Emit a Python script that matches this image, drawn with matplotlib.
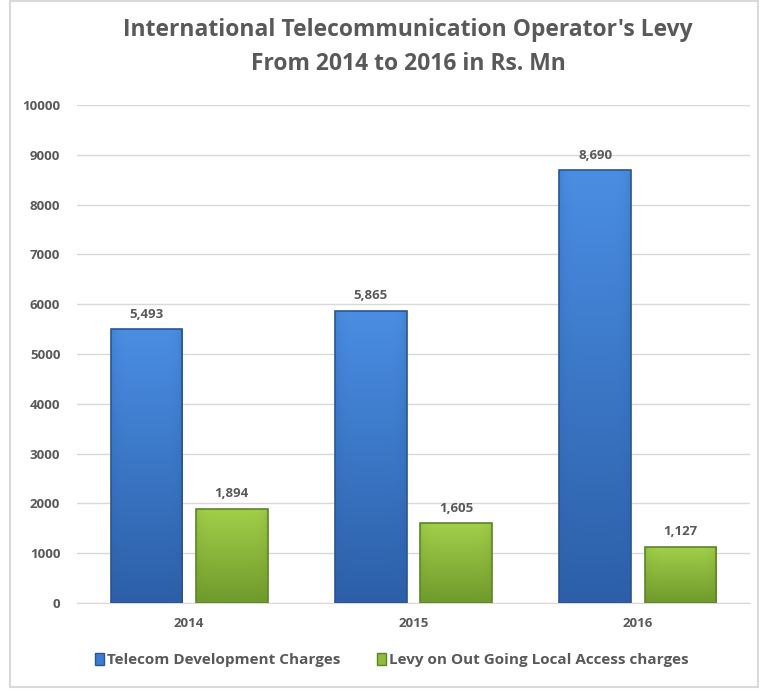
import matplotlib.pyplot as plt
import numpy as np
from matplotlib.patches import Rectangle

years = ["2014", "2015", "2016"]
tdc = [5493, 5865, 8690]
levy = [1894, 1605, 1127]
series_names = ["Telecom Development Charges", "Levy on Out Going Local Access charges"]

plt.rcParams['font.family'] = ['Open Sans', 'DejaVu Sans']
grey = '#595959'

fig = plt.figure(figsize=(7.59, 6.91), dpi=100)
ax = fig.add_axes([77 / 759, 1 - 603 / 691, (750 - 77) / 759, (603 - 105) / 691])

# outer border of the chart area
fig.add_artist(Rectangle((10 / 759, 4 / 691), 748 / 759, 686 / 691, transform=fig.transFigure,
                         fill=False, edgecolor='#d9d9d9', linewidth=1.5))

x = np.arange(len(years))
w = 0.32
off = 0.19


def gradient_bars(bars, top, bottom, edge):
    cmap = plt.matplotlib.colors.LinearSegmentedColormap.from_list('g', [bottom, top])
    for b in bars:
        x0, y0 = b.get_x(), b.get_y()
        bw, bh = b.get_width(), b.get_height()
        grad = np.linspace(0, 1, 256).reshape(-1, 1)
        # darken a little towards the side edges
        side = 1 - 0.25 * np.abs(np.linspace(-1, 1, 64)) ** 6
        img = ax.imshow(grad * side[None, :], extent=(x0, x0 + bw, y0, y0 + bh), origin='lower',
                        aspect='auto', cmap=cmap, vmin=0, vmax=1, zorder=2)
        img.set_clip_path(b)
        b.set_facecolor('none')
        b.set_edgecolor(edge)
        b.set_linewidth(1.2)
        b.set_zorder(3)


b1 = ax.bar(x - off, tdc, w, label=series_names[0], color='#3c7dd3')
b2 = ax.bar(x + off, levy, w, label=series_names[1], color='#8dbd3a')
gradient_bars(b1, '#4a8ee3', '#2c5fa8', '#2a568f')
gradient_bars(b2, '#a2d04a', '#6f9a2c', '#5f8427')

for bars, vals in ((b1, tdc), (b2, levy)):
    for b, v in zip(bars, vals):
        ax.text(b.get_x() + b.get_width() / 2, v + 170, f"{v:,}", ha='center', va='bottom',
                fontsize=9.5, fontweight='bold', color=grey)

ax.set_xlim(-0.5, 2.5)
ax.set_ylim(0, 10000)
ax.set_yticks(range(0, 10001, 1000))
ax.set_xticks(x)
ax.set_xticklabels(years)
ax.tick_params(axis='both', length=0, labelsize=9.5, labelcolor=grey)
ax.tick_params(axis='y', pad=12)
ax.tick_params(axis='x', pad=10)
for lbl in ax.get_xticklabels() + ax.get_yticklabels():
    lbl.set_fontweight('bold')
ax.yaxis.grid(True, color='#d9d9d9', linewidth=1)
ax.set_axisbelow(True)
for s in ['top', 'right', 'left']:
    ax.spines[s].set_visible(False)
ax.spines['bottom'].set_color('#d9d9d9')

fig.text(408 / 759, 1 - 30 / 691, "International Telecommunication Operator's Levy",
         ha='center', va='center', fontsize=16.5, fontweight='bold', color=grey)
fig.text(408 / 759, 1 - 64 / 691, "From 2014 to 2016 in Rs. Mn",
         ha='center', va='center', fontsize=16.5, fontweight='bold', color=grey)

leg = fig.legend(handles=[Rectangle((0, 0), 1, 1, facecolor='#3c7dd3', edgecolor='#2a568f'),
                          Rectangle((0, 0), 1, 1, facecolor='#8dbd3a', edgecolor='#5f8427')],
                 labels=series_names, loc='center', bbox_to_anchor=(392 / 759, 1 - 660 / 691),
                 ncol=2, frameon=False, handlelength=0.6, handleheight=0.8, handletextpad=0.2,
                 columnspacing=2.4, prop={'size': 11, 'weight': 'bold'})
for t in leg.get_texts():
    t.set_color(grey)

fig.savefig("out.png", dpi=100)
